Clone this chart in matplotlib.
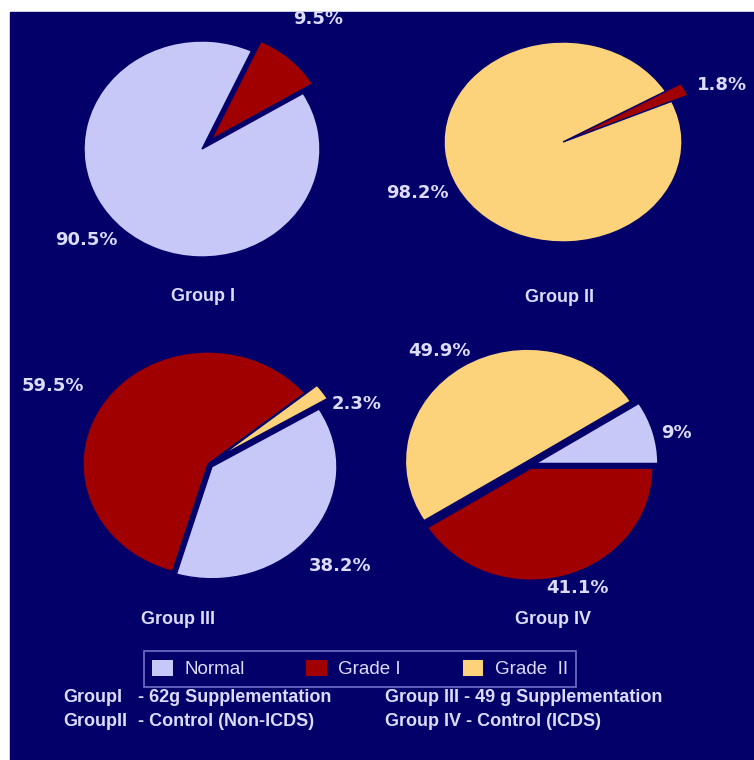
import matplotlib.pyplot as plt
import matplotlib.patches as mpatches

# data
categories = ['Normal', 'Grade I', 'Grade  II']
colors = ['#c8c8f8', '#a00000', '#fcd27a']
groups = ['Group I', 'Group II', 'Group III', 'Group IV']
group1 = [90.5, 9.5, 0]
group2 = [0, 1.8, 98.2]
group3 = [38.2, 59.5, 2.3]
group4 = [9.0, 41.1, 49.9]
values = [group1, group2, group3, group4]
notes = [('GroupI', '- 62g Supplementation', 'Group III - 49 g Supplementation'),
         ('GroupII', '- Control (Non-ICDS)', 'Group IV - Control (ICDS)')]

# layout (pixels on a 754x760 canvas)
W, H = 754, 760
navy = '#03006a'
txt = '#dcdcff'
centers = [(202, 149), (563, 142), (208, 464), (530, 465)]
radii = [(118, 108), (119, 100), (125, 112), (122, 112)]
starts = [31, 30.5, 31, 32.4]
explodes = [[0, 0.12, 0], [0, 0, 0], [0.04, 0, 0.12], [0.05, 0.03, 0.04]]
# label position for each category, in pie-radius units
label_pos = [[(-0.98, -0.84), (0.98, 1.2), None],
             [None, (1.34, 0.57), (-1.22, -0.51)],
             [(1.06, -0.91), (-1.24, 0.70), (1.19, 0.54)],
             [(1.20, 0.29), (0.39, -1.10), (-0.74, 1.02)]]
title_pos = [(0.01, -1.37), (-0.03, -1.55), (-0.24, -1.39), (0.19, -1.38)]

fig = plt.figure(figsize=(W / 100, H / 100), dpi=100, facecolor='white')
fig.add_artist(mpatches.Rectangle((10 / W, 0), 1 - 10 / W, 1 - 12 / H,
                                  transform=fig.transFigure, color=navy, zorder=-5))

for i, vals in enumerate(values):
    cx, cy = centers[i]
    rx, ry = radii[i]
    ax = fig.add_axes([(cx - rx) / W, 1 - (cy + ry) / H, 2 * rx / W, 2 * ry / H])
    keep = [k for k, v in enumerate(vals) if v > 0]
    wedges, _ = ax.pie([vals[k] for k in keep], colors=[colors[k] for k in keep],
                       explode=[explodes[i][k] for k in keep], startangle=starts[i],
                       counterclock=False, radius=1,
                       wedgeprops=dict(edgecolor=navy, linewidth=1))
    for w in wedges:
        w.set_clip_on(False)
    if i == 1:
        wedges[keep.index(1)].set_radius(1.15)
    ax.set_aspect('auto')
    ax.set_xlim(-1, 1)
    ax.set_ylim(-1, 1)
    ax.axis('off')
    for k in keep:
        lx, ly = label_pos[i][k]
        ax.text(lx, ly, f'{vals[k]:g}%', ha='center', va='center', color=txt,
                fontsize=13, fontweight='bold', family='DejaVu Sans', clip_on=False)
    tx, ty = title_pos[i]
    ax.text(tx, ty, groups[i], ha='center', va='center', color=txt,
            fontsize=13, fontweight='bold', family='Liberation Sans', clip_on=False)

handles = [mpatches.Patch(facecolor=c, edgecolor='none') for c in colors]
leg = fig.legend(handles, categories, ncol=3, loc='center',
                 bbox_to_anchor=(360 / W, 1 - 669 / H), frameon=True,
                 facecolor=navy, edgecolor='#8c8ce0', fancybox=False,
                 prop={'family': 'Liberation Sans', 'size': 13.5},
                 handlelength=1.1, handleheight=1.0, columnspacing=3.3,
                 handletextpad=0.6, borderpad=0.45)
leg.get_frame().set_linewidth(1.2)
for t in leg.get_texts():
    t.set_color(txt)

for j, (a, b, c) in enumerate(notes):
    y = 1 - (698 + 24 * j) / H
    fig.text(63 / W, y, a, color=txt, fontsize=13, fontweight='bold',
             family='Liberation Sans', va='center')
    fig.text(138 / W, y, b, color=txt, fontsize=13, fontweight='bold',
             family='Liberation Sans', va='center')
    fig.text(385 / W, y, c, color=txt, fontsize=13, fontweight='bold',
             family='Liberation Sans', va='center')

fig.savefig('out.png', dpi=100, facecolor='white')
